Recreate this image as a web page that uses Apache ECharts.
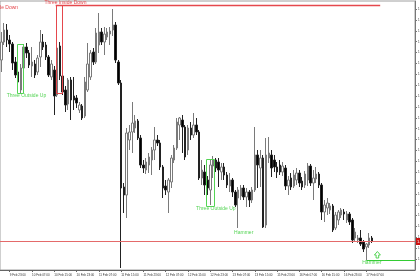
<!DOCTYPE html>
<html><head><meta charset="utf-8">
<script src="https://cdn.jsdelivr.net/npm/echarts/dist/echarts.min.js"></script>
<style>html,body{margin:0;padding:0;background:#fff}#c{width:420px;height:280px}</style>
</head><body><div id="c"></div>
<script>
// Hourly candles, 9 Feb 20:00 .. 17 Feb 09:00
const opens = [
1.1440,1.1458,1.1470,1.1460,1.1456,1.1438,1.1428,1.1410,1.1432,1.1453,
1.1447,1.1434,1.1436,1.1428,1.1443,1.1458,1.1455,1.1443,1.1423,1.1430,
1.1405,1.1454,1.1424,1.1410,1.1396,1.1420,1.1404,1.1402,1.1390,1.1394,
1.1384,1.1410,1.1423,1.1448,1.1438,1.1455,1.1468,1.1458,1.1463,1.1466,
1.1470,1.1475,1.1438,1.1417,1.1313,1.1305,1.1360,1.1368,1.1372,1.1379,
1.1362,1.1335,1.1330,1.1335,1.1340,1.1350,1.1360,1.1357,1.1333,1.1314,
1.1308,1.1318,1.1340,1.1352,1.1375,1.1380,1.1373,1.1350,1.1372,1.1365,
1.1375,1.1368,1.1322,1.1328,1.1320,1.1310,1.1334,1.1340,1.1338,1.1328,
1.1333,1.1325,1.1314,1.1320,1.1308,1.1302,1.1304,1.1312,1.1303,1.1308,
1.1300,1.1310,1.1345,1.1332,1.1342,1.1275,1.1342,1.1345,1.1340,1.1333,
1.1335,1.1328,1.1332,1.1314,1.1322,1.1314,1.1320,1.1327,1.1319,1.1315,
1.1320,1.1334,1.1317,1.1321,1.1326,1.1315,1.1288,1.1292,1.1290,1.1294,
1.1272,1.1280,1.1285,1.1288,1.1280,1.1286,1.1280,1.1262,1.1260,1.1262,
1.1258,1.1253,1.1255,1.1262];
const closes = [
1.1458,1.1470,1.1460,1.1456,1.1437,1.1425,1.1418,1.1432,1.1453,1.1447,
1.1435,1.1438,1.1425,1.1442,1.1458,1.1453,1.1443,1.1425,1.1436,1.1404,
1.1452,1.1424,1.1408,1.1395,1.1420,1.1400,1.1400,1.1397,1.1395,1.1382,
1.1418,1.1436,1.1447,1.1438,1.1467,1.1468,1.1458,1.1466,1.1468,1.1469,
1.1475,1.1440,1.1417,1.1312,1.1305,1.1367,1.1368,1.1377,1.1379,1.1362,
1.1335,1.1332,1.1338,1.1343,1.1350,1.1360,1.1357,1.1333,1.1312,1.1310,
1.1320,1.1342,1.1352,1.1378,1.1382,1.1373,1.1343,1.1372,1.1365,1.1375,
1.1368,1.1322,1.1330,1.1315,1.1312,1.1335,1.1340,1.1332,1.1330,1.1333,
1.1325,1.1315,1.1320,1.1308,1.1295,1.1310,1.1312,1.1303,1.1308,1.1300,
1.1310,1.1345,1.1335,1.1342,1.1273,1.1345,1.1347,1.1332,1.1333,1.1328,
1.1328,1.1334,1.1314,1.1320,1.1313,1.1325,1.1327,1.1317,1.1313,1.1326,
1.1334,1.1317,1.1322,1.1326,1.1315,1.1288,1.1295,1.1297,1.1294,1.1270,
1.1285,1.1288,1.1290,1.1286,1.1286,1.1278,1.1260,1.1268,1.1262,1.1256,
1.1251,1.1256,1.1262,1.12585];
const lows = [
1.1428,1.1455,1.1453,1.1448,1.1430,1.1422,1.1416,1.1407,1.1428,1.1442,
1.1432,1.1423,1.1422,1.1425,1.1433,1.1450,1.1440,1.1423,1.1420,1.1385,
1.1403,1.1420,1.1405,1.1388,1.1390,1.1380,1.1390,1.1392,1.1387,1.1380,
1.1382,1.1408,1.1420,1.1435,1.1436,1.1447,1.1455,1.1445,1.1460,1.1455,
1.1464,1.1437,1.1415,1.1232,1.1287,1.1282,1.1350,1.1347,1.1367,1.1360,
1.1332,1.1327,1.1326,1.1327,1.1325,1.1340,1.1354,1.1330,1.1302,1.1305,
1.1287,1.1312,1.1337,1.1350,1.1360,1.1347,1.1340,1.1345,1.1360,1.1362,
1.1365,1.1320,1.1315,1.1305,1.1305,1.1295,1.1322,1.1328,1.1313,1.1320,
1.1320,1.1312,1.1308,1.1303,1.1293,1.1272,1.1300,1.1300,1.1293,1.1293,
1.1297,1.1308,1.1312,1.1313,1.1272,1.1272,1.1337,1.1323,1.1328,1.1322,
1.1325,1.1324,1.1310,1.1305,1.1310,1.1312,1.1315,1.1313,1.1310,1.1312,
1.1314,1.1314,1.1300,1.1317,1.1312,1.1280,1.1278,1.1285,1.1286,1.1268,
1.1270,1.1275,1.1282,1.1280,1.1277,1.1275,1.1257,1.1258,1.1257,1.1254,
1.1248,1.1240,1.1252,1.1257];
const highs = [
1.1468,1.1477,1.1476,1.1465,1.1458,1.1443,1.1432,1.1436,1.1456,1.1457,
1.1450,1.1453,1.1440,1.1445,1.1470,1.1466,1.1458,1.1445,1.1440,1.1434,
1.1457,1.1458,1.1428,1.1414,1.1422,1.1423,1.1423,1.1405,1.1398,1.1396,
1.1423,1.1457,1.1450,1.1452,1.1472,1.1487,1.1472,1.1473,1.1472,1.1473,
1.1491,1.1478,1.1440,1.1420,1.1317,1.1372,1.1375,1.1398,1.1385,1.1381,
1.1365,1.1340,1.1342,1.1347,1.1353,1.1373,1.1365,1.1360,1.1335,1.1320,
1.1322,1.1345,1.1355,1.1382,1.1383,1.1385,1.1375,1.1375,1.1378,1.1387,
1.1382,1.1370,1.1340,1.1335,1.1324,1.1340,1.1344,1.1342,1.1342,1.1337,
1.1337,1.1328,1.1327,1.1322,1.1310,1.1313,1.1315,1.1315,1.1312,1.1310,
1.1313,1.1373,1.1350,1.1350,1.1345,1.1362,1.1363,1.1350,1.1345,1.1338,
1.1340,1.1338,1.1335,1.1324,1.1327,1.1330,1.1332,1.1330,1.1323,1.1329,
1.1337,1.1336,1.1330,1.1333,1.1328,1.1317,1.1300,1.1302,1.1297,1.1296,
1.1288,1.1290,1.1292,1.1291,1.1289,1.1288,1.1282,1.1272,1.1265,1.1270,
1.1260,1.1257,1.1267,1.1264];

// time axis labels every 8 bars, starting at bar 3
const tickLabels = ['9 Feb 23:00','10 Feb 07:00','10 Feb 15:00','10 Feb 23:00','11 Feb 07:00',
  '11 Feb 15:00','11 Feb 23:00','12 Feb 07:00','12 Feb 15:00','12 Feb 23:00','13 Feb 07:00',
  '13 Feb 15:00','15 Feb 23:00','16 Feb 07:00','16 Feb 15:00','16 Feb 23:00','17 Feb 07:00'];
const firstTick = 3, tickStep = 8, emptySlots = 15;

// pattern boxes (bar index range and price range)
const boxFrom  = [20, 6, 74];
const boxTo    = [21, 7, 76];
const boxLow   = [1.1407, 1.1407, 1.1294];
const boxHigh  = [1.1495, 1.1456, 1.1341];
const boxColor = ['#e5484d', '#55d455', '#55d455'];

const lastPrice = closes[closes.length - 1];

// horizontal pattern levels
const lineFrom  = [20, 131];
const lineTo    = [136, 148];
const linePrice = [1.1495, 1.1240];
const lineColor = ['#e5484d', '#33cc33'];
const lineFromEdge = [true, false];
const lineToEdge   = [false, true];

// text annotations
const noteText  = ['Three Inside Down','Three Inside Down','Three Outside Up','Three Outside Up','Hammer','Hammer'];
const noteIdx   = [23, 6, 9, 77, 87, 133];
const notePrice = [1.14973, 1.14927, 1.1404, 1.1291, 1.12675, 1.1237];
const noteColor = ['#e5484d','#e5484d','#55d455','#55d455','#55d455','#55d455'];
const noteAlign = ['center','right','center','center','center','center'];

// signal arrow
const arrowIdx = [135];
const arrowPrice = [1.1245];

const N = opens.length + emptySlots;
const categories = Array.from({length: N}, (_, i) => String(i));
const candleData = opens.map((o, i) => [o, closes[i], lows[i], highs[i]]);
const isTick = (i) => i >= firstTick && (i - firstTick) % tickStep === 0 && (i - firstTick) / tickStep < tickLabels.length;

const chart = echarts.init(document.getElementById('c'), null, {renderer: 'canvas'});
chart.setOption({
  animation: false,
  backgroundColor: '#ffffff',
  grid: {left: 0, right: 5, top: 1, bottom: 10, containLabel: false, outerBoundsMode: 'none',
         show: true, borderColor: '#a0a0a0', borderWidth: 1, backgroundColor: '#fff'},
  xAxis: {
    type: 'category', data: categories, boundaryGap: true,
    axisLine: {show: true, onZero: false, lineStyle: {color: '#666', width: 1}},
    axisTick: {show: true, alignWithLabel: true, length: 2, interval: (i) => isTick(i), lineStyle: {color: '#666'}},
    axisLabel: {show: true, interval: (i) => isTick(i), fontSize: 3, fontFamily: 'Liberation Sans',
      color: '#333', align: 'left', margin: 4,
      formatter: (v, i) => isTick(i) ? tickLabels[(i - firstTick) / tickStep] : ''},
    splitLine: {show: false}
  },
  yAxis: {
    type: 'value', position: 'right', min: 1.1230, max: 1.1499, interval: 0.001087,
    axisLine: {show: true, onZero: false, lineStyle: {color: '#777'}},
    axisTick: {show: true, length: 2, lineStyle: {color: '#777'}},
    axisLabel: {fontSize: 3, fontFamily: 'Liberation Sans', color: '#333', margin: 3,
      showMinLabel: false, showMaxLabel: false, formatter: (v) => v.toFixed(4)},
    splitLine: {show: false}
  },
  series: [
    {
      type: 'candlestick', data: candleData, barWidth: 2,
      itemStyle: {color: '#ffffff', color0: '#000000', borderColor: '#7a7a7a', borderColor0: '#222222', borderWidth: 1},
      z: 3
    },
    {
      type: 'custom', silent: true, z: 5,
      encode: {x: 0, y: 2},
      data: boxFrom.map((f, i) => [f, boxTo[i], boxLow[i], boxHigh[i], i]),
      renderItem: (params, api) => {
        const k = api.value(4);
        const bw = api.size([1, 0])[0];
        const p0 = api.coord([api.value(0), api.value(3)]);
        const p1 = api.coord([api.value(1), api.value(2)]);
        return {type: 'rect',
          shape: {x: Math.round(p0[0] - bw / 2) + 0.5, y: Math.round(p0[1]) + 0.5,
                  width: Math.round(p1[0] - p0[0] + bw), height: Math.round(p1[1] - p0[1])},
          style: {fill: 'none', stroke: boxColor[k], lineWidth: 1}};
      }
    },
    {
      type: 'custom', silent: true, z: 5,
      encode: {x: 0, y: 2},
      data: lineFrom.map((f, i) => [f, lineTo[i], linePrice[i], i]),
      renderItem: (params, api) => {
        const k = api.value(3);
        const bw = api.size([1, 0])[0];
        const a = api.coord([api.value(0), api.value(2)]);
        const b = api.coord([api.value(1), api.value(2)]);
        const x1 = lineFromEdge[k] ? a[0] - bw / 2 : a[0];
        const x2 = lineToEdge[k] ? b[0] + bw / 2 : b[0];
        const y = Math.round(a[1]) + 0.5;
        return {type: 'line', shape: {x1: x1, y1: y, x2: x2, y2: y},
          style: {stroke: lineColor[k], lineWidth: k === 0 ? 1.3 : 1}};
      }
    },
    {
      // current price line and its price tag on the axis
      type: 'custom', silent: true, z: 8,
      encode: {x: 0, y: 1},
      data: [[N - 1, lastPrice]],
      renderItem: (params, api) => {
        const bw = api.size([1, 0])[0];
        const p = api.coord([api.value(0), api.value(1)]);
        const q = api.coord([0, api.value(1)]);
        const xr = p[0] + bw / 2;
        const y = Math.round(p[1]);
        return {type: 'group', children: [
          {type: 'rect', shape: {x: q[0] - bw / 2, y: y, width: xr - q[0] + bw / 2, height: 1},
            style: {fill: '#e46a6a', stroke: null}},
          {type: 'rect', shape: {x: xr + 1, y: y - 3, width: 12, height: 7}, style: {fill: '#cc1111'}},
          {type: 'text', x: xr + 2, y: y + 0.5,
            style: {text: lastPrice.toFixed(5), fill: '#fff', fontSize: 4, fontFamily: 'Liberation Sans',
                    align: 'left', verticalAlign: 'middle'}}
        ]};
      }
    },
    {
      type: 'custom', silent: true, z: 6,
      encode: {x: 0, y: 1},
      data: noteIdx.map((x, i) => [x, notePrice[i], i]),
      renderItem: (params, api) => {
        const k = api.value(2);
        const p = api.coord([api.value(0), api.value(1)]);
        return {type: 'text', x: p[0], y: p[1],
          style: {text: noteText[k], fill: noteColor[k], fontSize: 5, fontFamily: 'Liberation Sans',
                  align: noteAlign[k], verticalAlign: 'middle'}};
      }
    },
    {
      type: 'custom', silent: true, z: 6,
      encode: {x: 0, y: 1},
      data: arrowIdx.map((x, i) => [x, arrowPrice[i]]),
      renderItem: (params, api) => {
        const p = api.coord([api.value(0), api.value(1)]);
        const cx = p[0], cy = p[1];
        return {type: 'polygon',
          shape: {points: [[cx, cy - 3.5], [cx + 3, cy], [cx + 1.3, cy], [cx + 1.3, cy + 3],
                           [cx - 1.3, cy + 3], [cx - 1.3, cy], [cx - 3, cy]]},
          style: {fill: '#ffffff', stroke: '#55d455', lineWidth: 1}};
      }
    }
  ]
});
</script>
</body></html>
